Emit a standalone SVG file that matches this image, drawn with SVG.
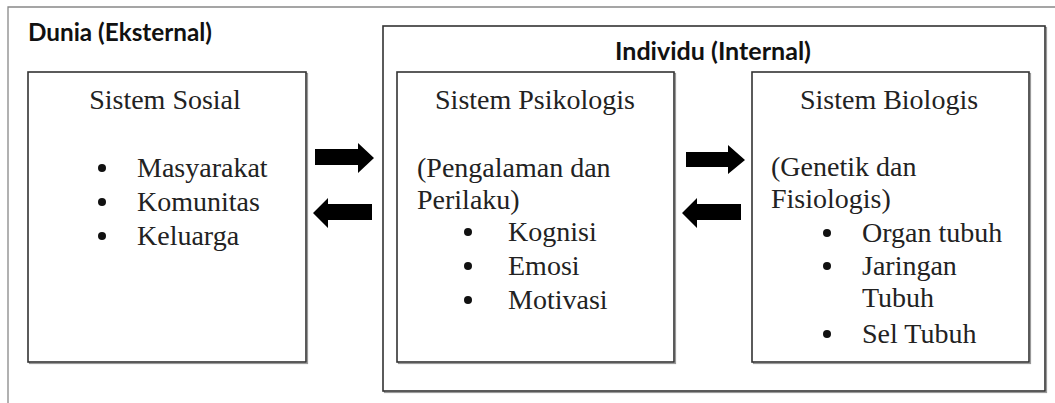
<svg xmlns="http://www.w3.org/2000/svg" xmlns:xlink="http://www.w3.org/1999/xlink" width="1055" height="403" viewBox="0 0 1055 403">
<style>
.box{fill:#fff;stroke:#333;stroke-width:1.6}
.shadow{fill:none;stroke:#999;stroke-width:1.2}
.frame{fill:none;stroke:#888;stroke-width:1.3}
.t{font-family:"Liberation Serif","Times New Roman",serif;font-size:28px;fill:#222}
.c{text-anchor:middle}
.h{font-family:Lato,"Liberation Sans",sans-serif;font-weight:bold;font-size:24px;fill:#111}
.arrow{fill:#000}
.dot{fill:#111}
</style>
<defs>
<circle id="b" r="4" class="dot"/>
</defs>
<rect width="1055" height="403" fill="#fff"/>
<g id="dunia">
<path class="frame" d="M8,403 V7 H1055"/>
<text class="h" x="28" y="41" textLength="184" lengthAdjust="spacingAndGlyphs">Dunia (Eksternal)</text>
</g>
<g id="sosial">
<rect class="shadow" x="29.5" y="73.5" width="278" height="290"/>
<rect class="box" x="28" y="72" width="278" height="290"/>
<text class="t c" x="165" y="109">Sistem Sosial</text>
<use xlink:href="#b" x="102" y="168"/>
<text class="t" x="137" y="177">Masyarakat</text>
<use xlink:href="#b" x="102" y="202"/>
<text class="t" x="137" y="211">Komunitas</text>
<use xlink:href="#b" x="102" y="236"/>
<text class="t" x="137" y="245">Keluarga</text>
</g>
<g id="individu">
<rect class="shadow" x="384.5" y="27.5" width="662" height="365"/>
<rect class="box" x="383" y="26" width="662" height="365"/>
<text class="h c" x="713" y="60" textLength="196" lengthAdjust="spacingAndGlyphs">Individu (Internal)</text>
</g>
<g id="psikologis">
<rect class="shadow" x="398.5" y="73.5" width="277" height="290"/>
<rect class="box" x="397" y="72" width="277" height="290"/>
<text class="t c" x="535" y="109">Sistem Psikologis</text>
<text class="t" x="417" y="177">(Pengalaman dan</text>
<text class="t" x="417" y="209">Perilaku)</text>
<use xlink:href="#b" x="468" y="232"/>
<text class="t" x="508" y="241">Kognisi</text>
<use xlink:href="#b" x="468" y="266"/>
<text class="t" x="508" y="275">Emosi</text>
<use xlink:href="#b" x="468" y="300"/>
<text class="t" x="508" y="309">Motivasi</text>
</g>
<g id="biologis">
<rect class="shadow" x="753.5" y="73.5" width="277" height="290"/>
<rect class="box" x="752" y="72" width="277" height="290"/>
<text class="t c" x="889" y="109">Sistem Biologis</text>
<text class="t" x="771" y="176">(Genetik dan</text>
<text class="t" x="771" y="208">Fisiologis)</text>
<use xlink:href="#b" x="827" y="233"/>
<text class="t" x="862" y="242">Organ tubuh</text>
<use xlink:href="#b" x="827" y="266"/>
<text class="t" x="862" y="275">Jaringan</text>
<text class="t" x="862" y="307">Tubuh</text>
<use xlink:href="#b" x="827" y="334"/>
<text class="t" x="862" y="343">Sel Tubuh</text>
</g>
<g id="connectors">
<polygon class="arrow" points="315,149 358,149 358,143 374,158 358,173 358,165 315,165"/>
<polygon class="arrow" points="372,204 328,204 328,198 313,213 328,228 328,220 372,220"/>
<polygon class="arrow" points="686,152 728,152 728,145 745,160 728,174 728,167 686,167"/>
<polygon class="arrow" points="741,204 697,204 697,198 682,213 697,228 697,220 741,220"/>
</g>
</svg>
